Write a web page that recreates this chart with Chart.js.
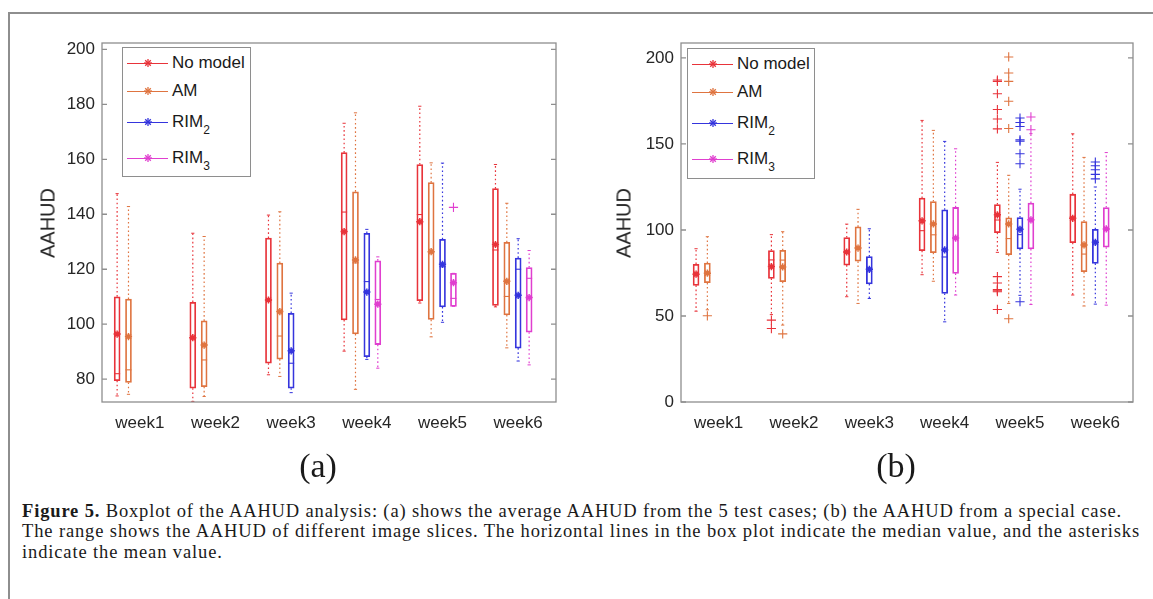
<!DOCTYPE html>
<html><head><meta charset="utf-8">
<script src="https://cdn.jsdelivr.net/npm/chart.js@4.4.1/dist/chart.umd.min.js"></script>
<style>
html,body{margin:0;padding:0;background:#fff;}
body{width:1153px;height:599px;position:relative;overflow:hidden;font-family:'Liberation Sans',Arial,sans-serif;}
#frame{position:absolute;left:8px;top:12px;width:1200px;height:700px;border-left:2px solid #8e8e8e;border-top:2px solid #8e8e8e;}
.cw{position:absolute;top:0;height:450px;}
#wa{left:0;width:580px}
#wb{left:580px;width:573px}
.ytitle{position:absolute;font-size:20px;color:#262626;transform:translate(-50%,-50%) rotate(-90deg);white-space:nowrap;}
.plabel{position:absolute;font-family:'Liberation Serif',serif;font-size:34px;color:#1a1a1a;transform:translate(-50%,-50%);white-space:nowrap;}
.legend{position:absolute;background:#fff;border:1px solid #8e8e8e;box-sizing:border-box;}
.lrow{position:absolute;left:0;width:100%;height:0;}
.lline{position:absolute;left:4px;width:41px;height:1px;top:0;}
.lstar{position:absolute;left:21px;top:-4px;width:8px;height:8px;}
.ltext{position:absolute;left:49px;top:-10px;font-size:17px;line-height:20px;color:#1a1a1a;white-space:nowrap;}
.ltext sub{font-size:12px;vertical-align:baseline;position:relative;top:7px;}
.cap{position:absolute;left:22px;font-family:'Liberation Serif',serif;font-size:18.5px;line-height:20px;color:#1a1a1a;white-space:nowrap;}
</style></head>
<body>
<div id="frame"></div>
<div class="cw" id="wa"><canvas id="ca"></canvas></div>
<div class="cw" id="wb"><canvas id="cb"></canvas></div>
<div class="ytitle" style="left:48px;top:223px">AAHUD</div>
<div class="ytitle" style="left:624px;top:223px">AAHUD</div>
<div class="plabel" style="left:318px;top:466px">(a)</div>
<div class="plabel" style="left:896px;top:466px">(b)</div>
<div class="legend" id="lega" style="left:122px;top:47px;width:129px;height:130px"></div>
<div class="legend" id="legb" style="left:687px;top:48px;width:128px;height:131px"></div>
<div class="cap" id="cap1" data-w="1100" style="top:501px"><b>Figure 5.</b> Boxplot of the AAHUD analysis: (a) shows the average AAHUD from the 5 test cases; (b) the AAHUD from a special case.</div>
<div class="cap" id="cap2" data-w="1118" style="top:521px">The range shows the AAHUD of different image slices. The horizontal lines in the box plot indicate the median value, and the asterisks</div>
<div class="cap" id="cap3" style="top:542px">indicate the mean value.</div>
<script>
// ---- categories / labels ----
const weeks = ['week1','week2','week3','week4','week5','week6'];
const seriesNames = ['No model','AM','RIM_2','RIM_3'];
const seriesColors = ['#e8333a','#df7440','#3535dd','#e03fcf'];
const yTicksA = [80,100,120,140,160,180,200];
const yTicksB = [0,50,100,150,200];

// ---- panel (a): per week [lowerWhisker, q1, median, q3, upperWhisker, mean] ----
const a_noModel = [
  [73.9, 79.5, 82.0, 110.0, 147.5, 96.4],
  [71.9, 76.7, 95.1, 108.0, 133.1, 95.1],
  [81.6, 85.8, 108.8, 131.3, 139.7, 108.8],
  [90.2, 101.6, 140.8, 162.4, 173.1, 133.7],
  [107.7, 108.6, 139.9, 158.1, 179.3, 137.3],
  [106.3, 106.8, 127.0, 149.3, 158.1, 129.0]];
const a_AM = [
  [74.5, 78.8, 83.4, 109.1, 142.8, 95.5],
  [73.7, 77.3, 87.0, 101.2, 131.9, 92.4],
  [81.0, 87.3, 95.7, 122.2, 140.9, 104.6],
  [76.3, 96.5, 122.3, 148.2, 176.9, 123.4],
  [95.4, 101.7, 126.4, 151.5, 158.7, 126.4],
  [91.4, 103.4, 110.1, 129.8, 144.0, 115.6]];
const a_RIM2 = [
  null, null,
  [75.1, 76.7, 85.8, 104.0, 111.3, 90.3],
  [87.2, 88.2, 115.5, 133.1, 134.5, 111.7],
  [100.7, 106.3, 120.9, 130.9, 158.6, 121.8],
  [86.6, 91.3, 120.0, 124.1, 131.1, 110.5]];
const a_RIM3 = [
  null, null, null,
  [84.0, 92.6, 109.0, 123.1, 124.5, 107.3],
  [106.5, 106.5, 109.4, 118.5, 118.5, 115.1],
  [85.2, 97.1, 116.7, 120.6, 126.8, 109.7]];
// outliers: [week number, value]
const a_noModel_out = [];
const a_AM_out = [];
const a_RIM2_out = [];
const a_RIM3_out = [[5,142.5]];

// ---- panel (b) ----
const b_noModel = [
  [52.8, 67.8, 74.3, 80.1, 89.1, 74.3],
  [50.8, 71.9, 82.6, 88.0, 97.3, 78.7],
  [61.2, 79.6, 87.2, 95.6, 103.4, 87.2],
  [74.0, 88.0, 99.6, 118.5, 163.7, 105.3],
  [87.0, 98.5, 105.8, 114.8, 139.3, 108.8],
  [62.2, 92.6, 107.5, 120.8, 155.9, 106.8]];
const b_AM = [
  [53.6, 69.3, 74.8, 80.8, 96.1, 74.9],
  [44.7, 70.0, 82.5, 88.2, 99.0, 78.5],
  [57.3, 81.8, 89.5, 101.8, 112.0, 89.5],
  [70.2, 86.8, 97.2, 116.5, 157.9, 103.5],
  [57.3, 85.6, 95.0, 107.0, 131.8, 103.5],
  [55.8, 75.7, 86.0, 104.9, 142.2, 91.3]];
const b_RIM2 = [
  null, null,
  [60.2, 68.6, 77.1, 84.5, 100.7, 77.1],
  [46.6, 63.1, 84.3, 111.7, 151.5, 88.4],
  [62.0, 89.0, 97.3, 107.2, 123.7, 100.4],
  [56.9, 80.6, 92.6, 100.4, 125.0, 92.8]];
const b_RIM3 = [
  null, null, null,
  [62.2, 74.8, 95.3, 113.1, 147.2, 95.3],
  [56.7, 89.0, 105.9, 115.6, 156.0, 105.9],
  [56.3, 90.0, 100.6, 113.0, 145.0, 100.6]];
const b_noModel_out = [[2,47.6],[2,42.7],[5,187.2],[5,186.4],[5,179.2],[5,170.0],[5,164.5],[5,158.8],[5,72.9],[5,69.2],[5,65.3],[5,64.7],[5,64.1],[5,53.8]];
const b_AM_out = [[1,50.1],[2,39.6],[5,200.6],[5,191.3],[5,186.4],[5,174.8],[5,159.0],[5,48.4]];
const b_RIM2_out = [[5,165.1],[5,162.5],[5,160.2],[5,152.4],[5,151.6],[5,144.3],[5,138.5],[5,58.3],[6,139.5],[6,137.3],[6,135.0],[6,132.3],[6,129.7]];
const b_RIM3_out = [[5,165.7],[5,158.3]];

// position of each series inside a week group (in week units)
const groupOffsets = [-0.3, -0.15, 0, 0.145];

const framePlugin = {
  id: 'frame',
  afterDatasetsDraw(chart) {
    const {ctx, chartArea: a, scales} = chart;
    ctx.save();
    ctx.strokeStyle = '#8e8e8e';
    ctx.lineWidth = 1.3;
    ctx.strokeRect(a.left, a.top, a.right - a.left, a.bottom - a.top);
    ctx.beginPath();
    scales.y.ticks.forEach(t => {
      const y = scales.y.getPixelForValue(t.value);
      ctx.moveTo(a.left, y); ctx.lineTo(a.left + 5, y);
      ctx.moveTo(a.right, y); ctx.lineTo(a.right - 5, y);
    });
    ctx.stroke();
    ctx.restore();
  }
};

function buildPanel(canvasId, seriesList, outList, yMin, yMax, yTicks, yAxisW, padRight) {
  const datasets = [];
  seriesList.forEach((ser, s) => {
    const col = seriesColors[s];
    const boxes = [], whisk = [], caps = [], meds = [], means = [];
    ser.forEach((st, i) => {
      if (!st) return;
      const x = i + 1 + groupOffsets[s];
      const [lo, q1, med, q3, hi, mean] = st;
      boxes.push({x, y: [q1, q3]});
      whisk.push({x, y: q3}, {x, y: hi}, {x, y: null}, {x, y: q1}, {x, y: lo}, {x, y: null});
      caps.push({x, y: lo}, {x, y: hi});
      meds.push({x, y: med});
      means.push({x, y: mean});
    });
    const outs = outList[s].map(([w, v]) => ({x: w + groupOffsets[s], y: v}));
    datasets.push({type: 'line', data: whisk, borderColor: col, borderWidth: 1.2, borderDash: [1.6, 2.6],
      pointRadius: 0, spanGaps: false, fill: false, order: 5});
    datasets.push({type: 'scatter', data: caps, pointStyle: 'line', pointRadius: 1.6, pointBorderWidth: 1,
      borderColor: col, backgroundColor: col, order: 4});
    datasets.push({type: 'bar', data: boxes, grouped: false, barThickness: 6, borderWidth: 1.1,
      borderColor: col, backgroundColor: 'rgba(255,255,255,0)', borderSkipped: false, order: 3});
    datasets.push({type: 'scatter', data: meds, pointStyle: 'line', pointRadius: 3, pointBorderWidth: 1.1,
      borderColor: col, backgroundColor: col, order: 2});
    datasets.push({type: 'scatter', data: means, pointStyle: 'star', pointRadius: 3.6, pointBorderWidth: 1.5,
      borderColor: col, backgroundColor: col, order: 1});
    datasets.push({type: 'scatter', data: outs, pointStyle: 'cross', pointRadius: 4.6, pointBorderWidth: 1.1,
      borderColor: col, backgroundColor: col, order: 1});
  });
  const tickFont = {family: "'Liberation Sans', Arial, sans-serif", size: 17};
  return new Chart(document.getElementById(canvasId), {
    type: 'bar',
    data: {datasets},
    options: {
      responsive: true, maintainAspectRatio: false, animation: false, events: [],
      layout: {padding: {left: 0, top: 43, right: padRight, bottom: 0}},
      plugins: {legend: {display: false}, tooltip: {enabled: false}},
      scales: {
        x: {type: 'linear', min: 0.5, max: 6.5, offset: false,
          grid: {display: false, drawTicks: false, offset: false}, border: {display: false},
          afterBuildTicks: sc => { sc.ticks = weeks.map((w, i) => ({value: i + 1})); },
          afterFit: sc => { sc.height = 48; },
          ticks: {font: tickFont, color: '#262626', padding: 11, maxRotation: 0, autoSkip: false,
            callback: v => weeks[Math.round(v) - 1]}},
        y: {type: 'linear', min: yMin, max: yMax,
          grid: {display: false, drawTicks: false}, border: {display: false},
          afterBuildTicks: sc => { sc.ticks = yTicks.map(v => ({value: v})); },
          afterFit: sc => { sc.width = yAxisW; },
          ticks: {font: tickFont, color: '#262626', padding: 7, callback: v => String(v)}}
      }
    },
    plugins: [framePlugin]
  });
}

buildPanel('ca', [a_noModel, a_AM, a_RIM2, a_RIM3], [a_noModel_out, a_AM_out, a_RIM2_out, a_RIM3_out],
  71.7, 202.3, yTicksA, 102, 24);
buildPanel('cb', [b_noModel, b_AM, b_RIM2, b_RIM3], [b_noModel_out, b_AM_out, b_RIM2_out, b_RIM3_out],
  0, 208.7, yTicksB, 101, 20);

// ---- legends ----
const rowY = [15, 42.5, 74, 110];
function labelHtml(n) {
  const p = n.split('_');
  return p.length > 1 ? p[0] + '<sub>' + p[1] + '</sub>' : n;
}
['lega', 'legb'].forEach(id => {
  const box = document.getElementById(id);
  seriesNames.forEach((n, i) => {
    const c = seriesColors[i];
    const r = document.createElement('div');
    r.className = 'lrow';
    r.style.top = rowY[i] + 'px';
    r.innerHTML = '<div class="lline" style="background:' + c + '"></div>' +
      '<svg class="lstar" viewBox="0 0 8 8"><g stroke="' + c + '" stroke-width="1.3">' +
      '<line x1="0" y1="4" x2="8" y2="4"/><line x1="4" y1="0" x2="4" y2="8"/>' +
      '<line x1="1.2" y1="1.2" x2="6.8" y2="6.8"/><line x1="6.8" y1="1.2" x2="1.2" y2="6.8"/></g></svg>' +
      '<div class="ltext">' + labelHtml(n) + '</div>';
    box.appendChild(r);
  });
});

// ---- caption fitting ----
let ls = 0;
['cap1', 'cap2'].forEach(id => {
  const el = document.getElementById(id);
  const target = +el.dataset.w;
  const w = el.getBoundingClientRect().width;
  const n = el.textContent.length;
  const s = (target - w) / n;
  el.style.letterSpacing = s + 'px';
  ls = s;
});
document.getElementById('cap3').style.letterSpacing = Math.max(ls, 0) + 'px';
</script>
</body></html>
